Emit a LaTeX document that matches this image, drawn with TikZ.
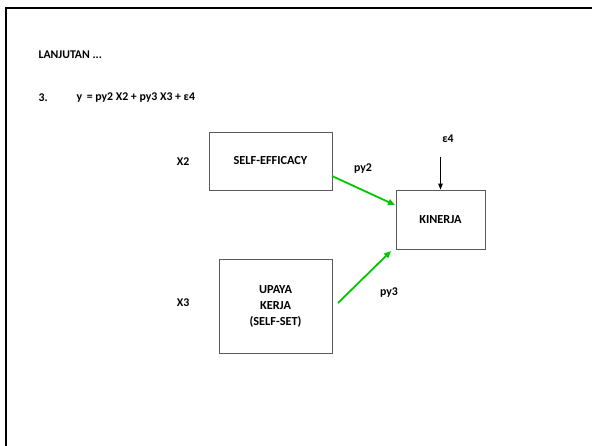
\documentclass[tikz,border=0pt]{standalone}
\usepackage{fontspec}
\setmainfont{Carlito}
\usetikzlibrary{arrows.meta}
\definecolor{pathgreen}{RGB}{0,200,0}
\definecolor{boxgray}{RGB}{90,90,90}
\tikzset{
  varbox/.style={draw=boxgray, line width=0.8pt, align=center, font=\bfseries\fontsize{12.3}{16}\selectfont, inner sep=0pt},
  varlabel/.style={font=\bfseries\fontsize{11.8}{14}\selectfont},
  path arrow/.style={draw=pathgreen, line width=1.8pt, -{Triangle[length=7pt,width=6pt]}},
  err arrow/.style={draw=black, line width=1pt, -{Triangle[length=6pt,width=4.5pt]}}
}
\begin{document}
\begin{tikzpicture}[x=1pt,y=-1pt]
			\useasboundingbox (0,0) rectangle (592,446);
			\clip (0,0) rectangle (592,446);
			\draw[line width=2pt] (6,8) rectangle (620,470);
			\node[anchor=west, varlabel] (title) at (35,55) {LANJUTAN ...};
			\node[anchor=west, varlabel] (num) at (35,98) {3.};
			\node[anchor=west, varlabel] (eqn) at (73,98) {y\, = py2 X2 + py3 X3 + ε4};
			% kotak variabel
			\node[varbox, minimum width=123pt, minimum height=58pt] (se) at (270.5,161) {SELF-EFFICACY};
			\node[varbox, minimum width=113pt, minimum height=94pt] (uk) at (275.5,306) {UPAYA\\KERJA\\(SELF-SET)};
			\node[varbox, minimum width=89pt, minimum height=59pt] (kin) at (440.5,219.5) {KINERJA};
			\node[varlabel] (x2) at (183,162) {X2};
			\node[varlabel] (x3) at (183,303) {X3};
			\node[varlabel] (eps) at (448,139) {ε4};
			\node[varlabel] (py2) at (363,169) {py2};
			\node[varlabel] (py3) at (389,293) {py3};
			% panah
			\coordinate (se out) at (332,176);
			\coordinate (kin in2) at (395,205);
			\coordinate (uk out) at (338,303);
			\coordinate (kin in3) at (391,251);
			\coordinate (eps out) at (440.5,157);
			\draw[path arrow] (se out) -- (kin in2);
			\draw[path arrow] (uk out) -- (kin in3);
			\draw[err arrow] (eps out) -- (kin.north);
\end{tikzpicture}
\end{document}
